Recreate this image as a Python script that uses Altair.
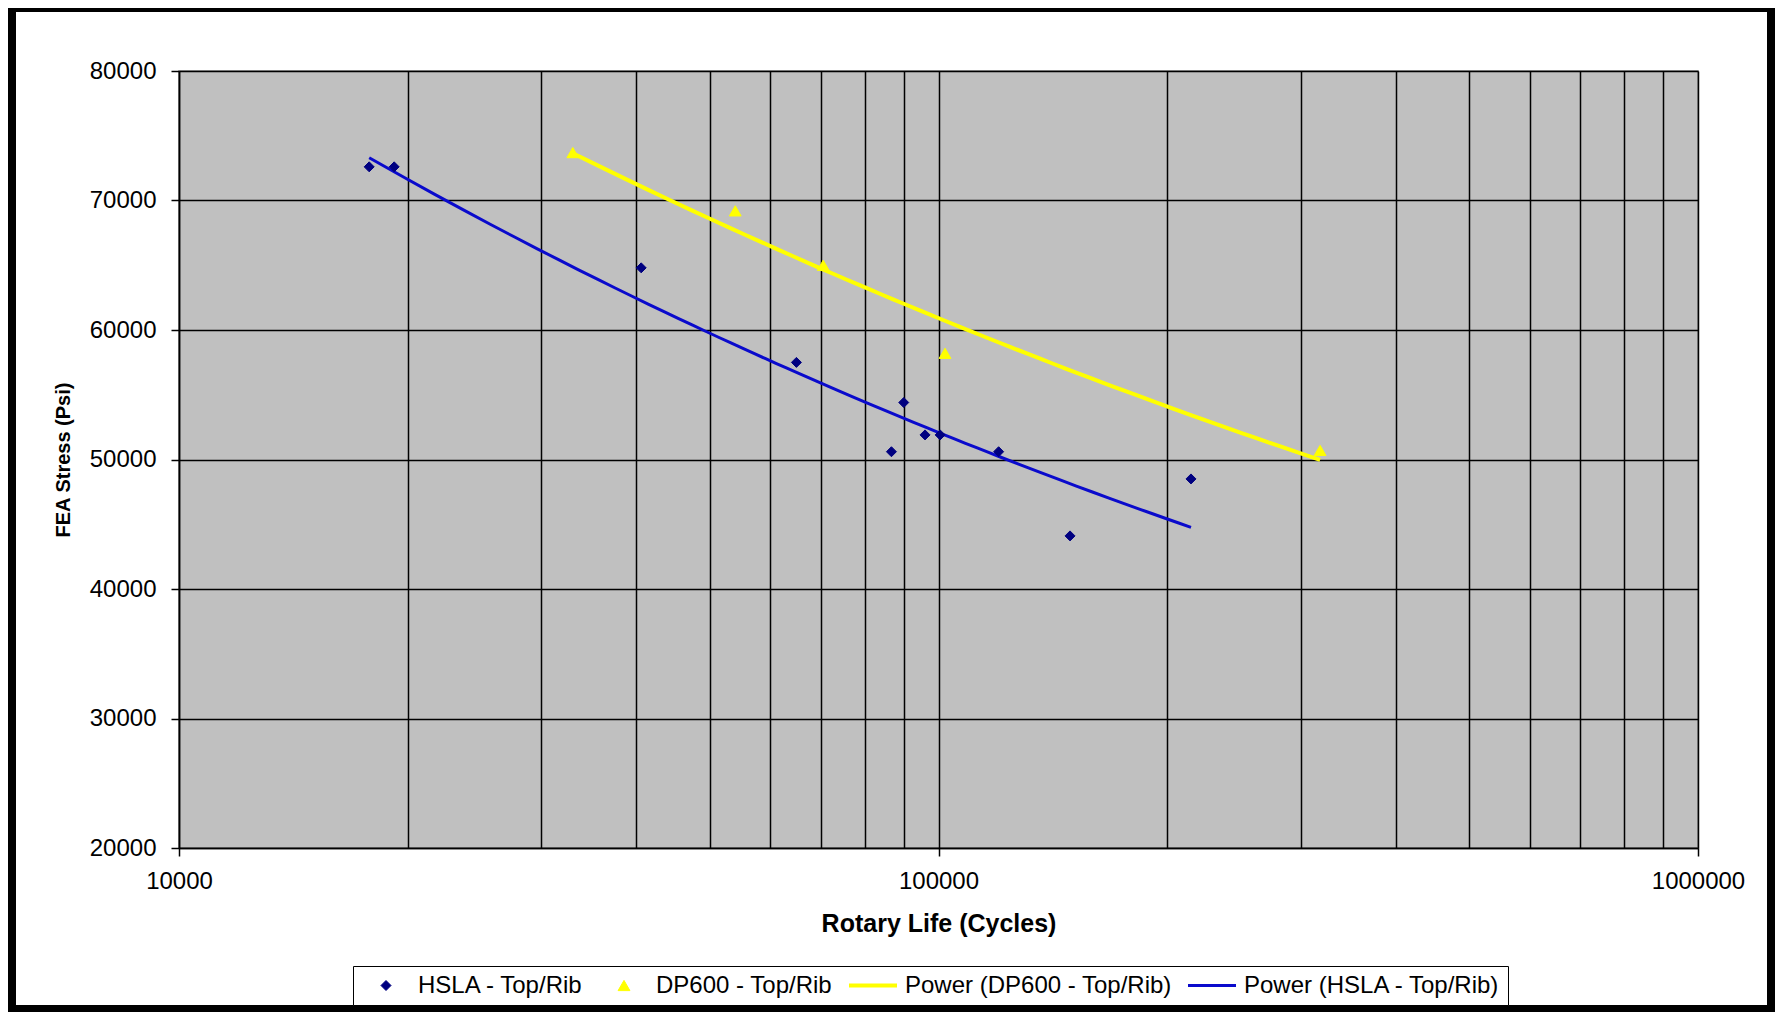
import altair as alt
import pandas as pd

# ---------------- data ----------------
hsla_cycles = [17800, 19200, 40600, 65000, 86700, 90000, 96000, 100500, 120000, 149000, 215000]
hsla_stress = [72600, 72600, 64800, 57500, 50600, 54400, 51900, 51900, 50600, 44100, 48500]

dp600_cycles = [33000, 54000, 70500, 102000, 318000]
dp600_stress = [73700, 69200, 65000, 58200, 50700]

series_names = ["HSLA - Top/Rib", "DP600 - Top/Rib",
                "Power (DP600 - Top/Rib)", "Power (HSLA - Top/Rib)"]
series_colors = ["#000080", "#FFFF00", "#FFFF00", "#0A0ACC"]
series_shapes = ["diamond", "triangle-up", "stroke", "stroke"]
series_sizes = [100, 140, 2304, 2304]
series_widths = [1, 1, 4, 3]

x_grid_values = ([10000 * i for i in range(1, 10)]
                 + [100000 * i for i in range(1, 10)] + [1000000])
x_label_values = [10000, 100000, 1000000]
y_tick_values = [20000, 30000, 40000, 50000, 60000, 70000, 80000]

points = pd.DataFrame({
    "Cycles": hsla_cycles + dp600_cycles,
    "Stress": hsla_stress + dp600_stress,
    "series": [series_names[0]] * len(hsla_cycles) + [series_names[1]] * len(dp600_cycles),
})

FONT = "Liberation Sans"
W, H = 1519, 777

legend = alt.Legend(
    title=None, orient="none", legendX=174, legendY=895,
    direction="horizontal", columns=4, clipHeight=25,
    strokeColor="black", fillColor="white", padding=7,
    labelFont=FONT, labelFontSize=24, labelColor="black",
    labelOffset=6, columnPadding=14, labelLimit=0,
)

def sc(rng, kind=None):
    if kind:
        return alt.Scale(type=kind, domain=series_names, range=rng)
    return alt.Scale(domain=series_names, range=rng)

major_test = " || ".join(f"datum.value == {v}" for v in x_label_values)

x_axis = alt.Axis(
    values=x_grid_values, grid=True, gridColor="black", gridWidth=1.5,
    domainColor="black", domainWidth=1.5,
    tickColor="black", tickWidth=1.5, tickSize=8,
    tickOpacity={"condition": {"test": major_test, "value": 1}, "value": 0},
    labelExpr=f"({major_test}) ? format(datum.value, 'd') : ''",
    labelFont=FONT, labelFontSize=24, labelColor="black", labelPadding=13,
    labelFlush=False, labelOverlap=False,
    title="Rotary Life (Cycles)", titleFont=FONT, titleFontSize=25,
    titleFontWeight="bold", titleColor="black", titlePadding=18,
)
y_axis = alt.Axis(
    values=y_tick_values, format="d", grid=True, gridColor="black", gridWidth=1.5,
    domainColor="black", domainWidth=1.5,
    tickColor="black", tickWidth=1.5, tickSize=8,
    labelFont=FONT, labelFontSize=24, labelColor="black", labelPadding=15,
    labelOverlap=False,
    title="FEA Stress (Psi)", titleFont=FONT, titleFontSize=20,
    titleFontWeight="bold", titleColor="black", titlePadding=16,
)

x_enc = alt.X("Cycles:Q", scale=alt.Scale(type="log", domain=[10000, 1000000], nice=False), axis=x_axis)
y_enc = alt.Y("Stress:Q", scale=alt.Scale(domain=[20000, 80000], zero=False, nice=False), axis=y_axis)

frame = alt.Chart(pd.DataFrame({"k": [0]})).mark_rect(
    filled=False, stroke="black", strokeWidth=12
).encode(
    x=alt.value(-169), x2=alt.value(1594), y=alt.value(-65), y2=alt.value(940)
)

trend = alt.Chart(points).transform_regression(
    "Cycles", "Stress", method="pow", groupby=["series"]
).transform_calculate(
    series='"Power (" + datum.series + ")"'
).mark_line().encode(
    x=x_enc, y=y_enc,
    stroke=alt.Stroke("series:N", scale=sc(series_colors), legend=legend),
    strokeWidth=alt.StrokeWidth("series:N", scale=sc(series_widths, "ordinal"), legend=legend),
    detail="series:N",
)

pts = alt.Chart(points).mark_point(filled=True, opacity=1).encode(
    x=x_enc, y=y_enc,
    fill=alt.Fill("series:N", scale=sc(series_colors), legend=legend),
    stroke=alt.Stroke("series:N", scale=sc(series_colors), legend=legend),
    shape=alt.Shape("series:N", scale=sc(series_shapes), legend=legend),
    size=alt.Size("series:N", scale=sc(series_sizes, "ordinal"), legend=legend),
    strokeWidth=alt.StrokeWidth("series:N", scale=sc(series_widths, "ordinal"), legend=legend),
)

chart = alt.layer(frame, trend, pts).properties(
    width=W, height=H,
    autosize=alt.AutoSizeParams(type="none"),
    padding={"left": 171, "top": 63, "right": 77, "bottom": 164},
).configure(
    background="white",
).configure_view(
    fill="#C0C0C0", stroke="#808080", strokeWidth=1.5,
)

chart.save("out.html", embed_options={"renderer": "svg", "actions": False})
